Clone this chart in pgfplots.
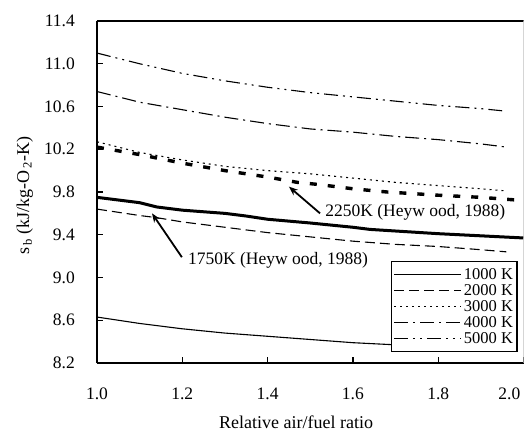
\documentclass[border=0pt]{standalone}
\usepackage{pgfplots}
\pgfplotsset{compat=1.18}
\usepackage{fontspec}
\setmainfont{Liberation Serif}
\usetikzlibrary{arrows.meta}
\begin{document}
\begin{tikzpicture}
\begin{axis}[
  scale only axis, width=426.5bp, height=342bp,
  xmin=1.0, xmax=2.0, ymin=8.2, ymax=11.4,
  axis x line*=bottom, axis y line*=left,
  axis line style={line width=1.5bp},
  tick align=inside, major tick length=6bp,
  every tick/.style={black, line width=1.2bp},
  xtick={1.0,1.2,1.4,1.6,1.8},
  extra x ticks={2.0},
  extra x tick style={xticklabel style={anchor=north east, xshift=-3bp}},
  ytick={8.2,8.6,9.0,9.4,9.8,10.2,10.6,11.0,11.4},
  /pgf/number format/assume math mode=true,
  /pgf/number format/.cd, fixed, fixed zerofill, precision=1, /pgfplots/.cd,
  every tick label/.append style={font=\fontsize{17.5bp}{20bp}\selectfont, inner sep=0pt},
  xticklabel style={yshift=-25bp},
  yticklabel style={xshift=-22bp},
  xlabel={Relative air/fuel ratio},
  ylabel={s\textsubscript{\,b} (kJ/kg-O\textsubscript{\,2}-K)},
  label style={font=\fontsize{18bp}{20bp}\selectfont, inner sep=0pt},
  xlabel style={at={(axis description cs:0.467,0)}, anchor=base, yshift=-65bp},
  ylabel style={at={(axis description cs:-0.1594,0.49)}, anchor=base},
  legend cell align=left,
  legend style={at={(0.986,0.032)}, anchor=south east, draw=black, line width=1.2bp,
    font=\fontsize{16.5bp}{16.5bp}\selectfont, inner xsep=2bp, inner ysep=5bp,
    row sep=0bp,
    nodes={text height=11.5bp, text depth=0.5bp, inner ysep=2bp, inner xsep=2bp}},
  legend image code/.code={\draw[#1, line width=1.1bp] (0bp,0bp) -- (67bp,0bp);},
]
\addplot[black, line width=1.1bp] coordinates {
(1.0,8.63)(1.1,8.57)(1.2,8.52)(1.3,8.48)(1.4,8.45)(1.5,8.42)(1.6,8.39)(1.7,8.37)(1.8,8.35)(1.9,8.34)(1.96,8.33)};
\addlegendentry{1000 K}
\addplot[black, line width=1.1bp, dash pattern=on 10bp off 5bp] coordinates {
(1.0,9.64)(1.1,9.58)(1.14,9.56)(1.2,9.52)(1.3,9.47)(1.4,9.42)(1.5,9.38)(1.6,9.34)(1.7,9.31)(1.8,9.29)(1.9,9.26)(1.96,9.24)};
\addlegendentry{2000 K}
\addplot[black, line width=1.1bp, dash pattern=on 2bp off 4bp] coordinates {
(1.0,10.27)(1.1,10.17)(1.2,10.10)(1.3,10.04)(1.4,10.00)(1.5,9.97)(1.6,9.93)(1.7,9.89)(1.8,9.86)(1.9,9.83)(1.96,9.81)};
\addlegendentry{3000 K}
\addplot[black, line width=1.1bp, dash pattern=on 14bp off 5bp on 2bp off 5bp] coordinates {
(1.0,10.74)(1.1,10.64)(1.2,10.57)(1.3,10.50)(1.4,10.44)(1.5,10.39)(1.6,10.36)(1.7,10.32)(1.8,10.29)(1.9,10.25)(1.96,10.22)};
\addlegendentry{4000 K}
\addplot[black, line width=1.1bp, dash pattern=on 14bp off 5bp on 2bp off 5bp on 2bp off 5bp] coordinates {
(1.0,11.10)(1.1,11.00)(1.2,10.91)(1.3,10.84)(1.4,10.78)(1.5,10.73)(1.6,10.69)(1.7,10.65)(1.8,10.61)(1.9,10.58)(1.95,10.56)};
\addlegendentry{5000 K}
\addplot[black, line width=3bp, forget plot] coordinates {
(1.0,9.75)(1.1,9.70)(1.14,9.66)(1.2,9.63)(1.3,9.60)(1.35,9.575)(1.4,9.545)(1.5,9.51)(1.6,9.47)(1.64,9.45)(1.72,9.43)(1.8,9.41)(1.9,9.39)(2.0,9.37)};
\addplot[black, line width=3.4bp, dash pattern=on 7bp off 11bp, forget plot] coordinates {
(1.0,10.22)(1.1,10.15)(1.2,10.07)(1.3,10.00)(1.4,9.94)(1.47,9.89)(1.52,9.87)(1.6,9.83)(1.68,9.80)(1.8,9.77)(1.9,9.75)(2.0,9.72)};
\draw[line width=1.5bp] (rel axis cs:0,1) -- (rel axis cs:1,1);
\draw[line width=1bp, black!25] (rel axis cs:1,0) -- (rel axis cs:1,1);
\draw[line width=1.8bp, -{Stealth[length=9bp,width=7bp]}] (axis cs:1.523,9.60) -- (axis cs:1.45,9.85);
\draw[line width=1.8bp, -{Stealth[length=9bp,width=7bp]}] (axis cs:1.199,9.19) -- (axis cs:1.129,9.60);
\node[anchor=west, inner sep=0pt, font=\fontsize{17.5bp}{20bp}\selectfont] at (axis cs:1.535,9.61) {2250K (Heyw ood, 1988)};
\node[anchor=west, inner sep=0pt, font=\fontsize{17.5bp}{20bp}\selectfont] at (axis cs:1.213,9.16) {1750K (Heyw ood, 1988)};
\end{axis}
\pgfresetboundingbox
\path (current axis.south west) ++(-97bp,-69bp) rectangle ++(524bp,432bp);
\end{tikzpicture}
\end{document}
